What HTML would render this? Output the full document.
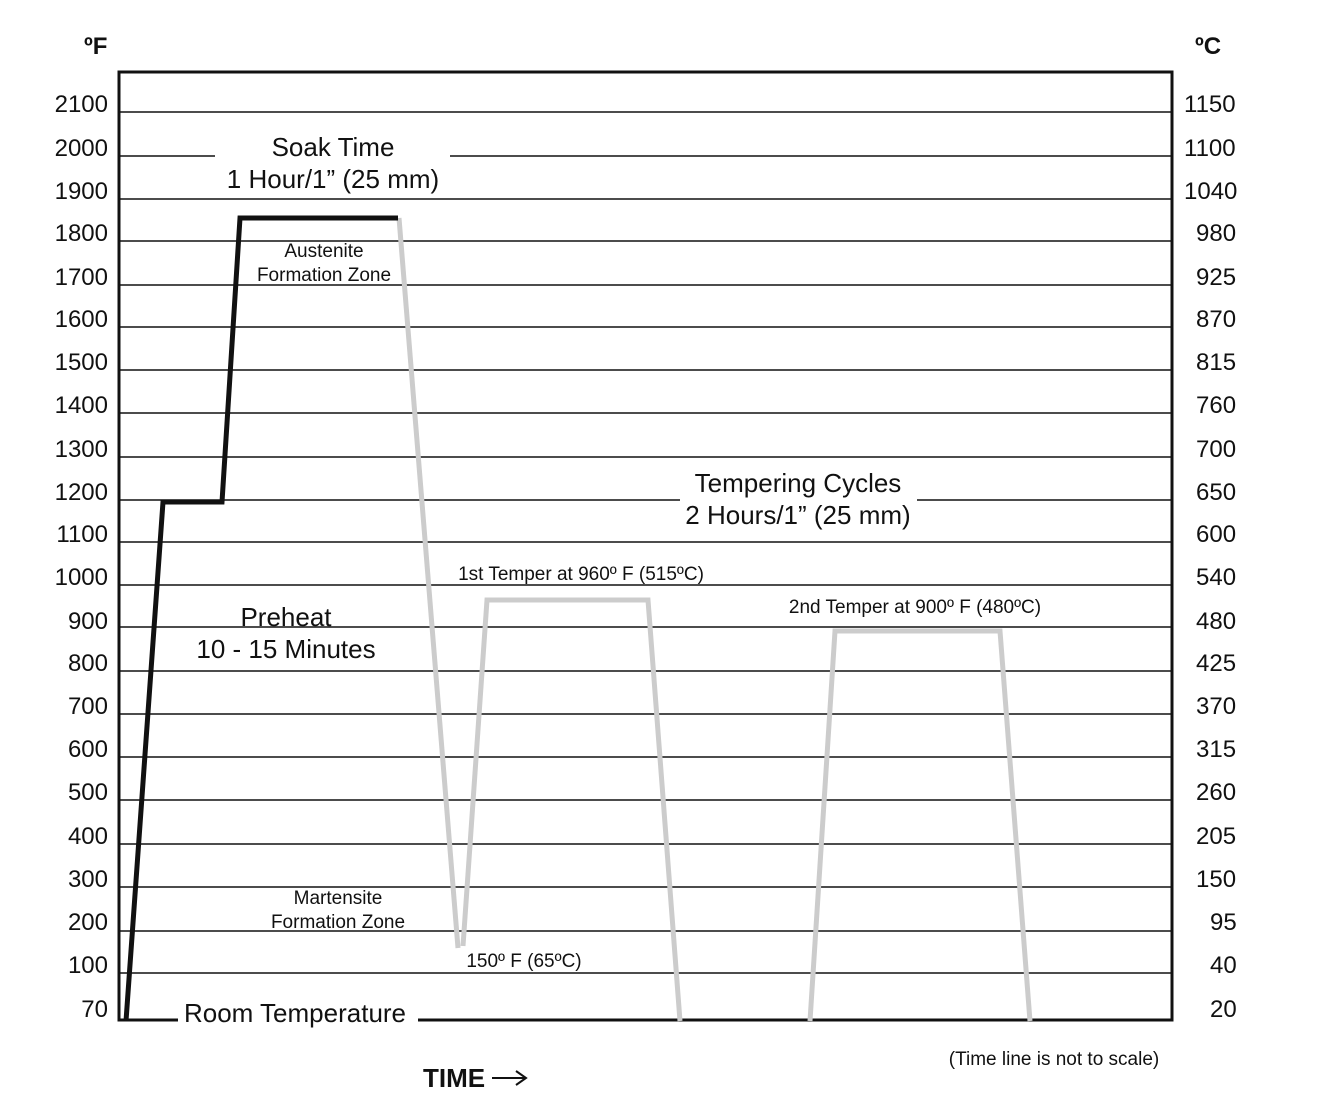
<!DOCTYPE html>
<html><head><meta charset="utf-8"><style>
html,body{margin:0;padding:0;background:#fff;}
svg{display:block;}
text{font-family:"Liberation Sans Narrow","Liberation Sans",sans-serif;fill:#111;}
</style></head><body>
<svg width="1320" height="1116" viewBox="0 0 1320 1116" xmlns="http://www.w3.org/2000/svg">
<g stroke="#111" stroke-width="1.6">
<line x1="119" y1="112" x2="1172" y2="112"/>
<line x1="119" y1="156" x2="215" y2="156"/><line x1="450" y1="156" x2="1172" y2="156"/>
<line x1="119" y1="199" x2="1172" y2="199"/>
<line x1="119" y1="241" x2="1172" y2="241"/>
<line x1="119" y1="285" x2="1172" y2="285"/>
<line x1="119" y1="327" x2="1172" y2="327"/>
<line x1="119" y1="370" x2="1172" y2="370"/>
<line x1="119" y1="413" x2="1172" y2="413"/>
<line x1="119" y1="457" x2="1172" y2="457"/>
<line x1="119" y1="500" x2="680" y2="500"/><line x1="917" y1="500" x2="1172" y2="500"/>
<line x1="119" y1="542" x2="1172" y2="542"/>
<line x1="119" y1="585" x2="1172" y2="585"/>
<line x1="119" y1="627" x2="1172" y2="627"/>
<line x1="119" y1="671" x2="1172" y2="671"/>
<line x1="119" y1="714" x2="1172" y2="714"/>
<line x1="119" y1="757" x2="1172" y2="757"/>
<line x1="119" y1="800" x2="1172" y2="800"/>
<line x1="119" y1="844" x2="1172" y2="844"/>
<line x1="119" y1="887" x2="1172" y2="887"/>
<line x1="119" y1="931" x2="1172" y2="931"/>
<line x1="119" y1="973" x2="1172" y2="973"/>
</g>
<g stroke="#111" stroke-width="3" fill="none">
<polyline points="178,1020 119,1020 119,72 1172,72 1172,1020 418,1020"/>
</g>
<g stroke="#ccc" stroke-width="5" fill="none" stroke-linejoin="miter">
<polyline points="399,218 458,948"/>
<polyline points="463,946 487,600 648,600 680,1021"/>
<polyline points="810,1021 835,631 1000,631 1030,1021"/>
</g>
<polyline points="126,1021 163,502 222,502 240,218 398,218" stroke="#111" stroke-width="5" fill="none"/>
<g font-size="24" text-anchor="end">
<text x="108" y="112">2100</text><text x="108" y="156">2000</text><text x="108" y="199">1900</text>
<text x="108" y="241">1800</text><text x="108" y="285">1700</text><text x="108" y="327">1600</text>
<text x="108" y="370">1500</text><text x="108" y="413">1400</text><text x="108" y="457">1300</text>
<text x="108" y="500">1200</text><text x="108" y="542">1100</text><text x="108" y="585">1000</text>
<text x="108" y="629">900</text><text x="108" y="671">800</text><text x="108" y="714">700</text>
<text x="108" y="757">600</text><text x="108" y="800">500</text><text x="108" y="844">400</text>
<text x="108" y="887">300</text><text x="108" y="930">200</text><text x="108" y="973">100</text>
<text x="108" y="1017">70</text>
</g>
<g font-size="24" text-anchor="start">
<text x="1184" y="112">1150</text><text x="1184" y="156">1100</text><text x="1184" y="199">1040</text>
<text x="1196" y="241">980</text><text x="1196" y="285">925</text><text x="1196" y="327">870</text>
<text x="1196" y="370">815</text><text x="1196" y="413">760</text><text x="1196" y="457">700</text>
<text x="1196" y="500">650</text><text x="1196" y="542">600</text><text x="1196" y="585">540</text>
<text x="1196" y="629">480</text><text x="1196" y="671">425</text><text x="1196" y="714">370</text>
<text x="1196" y="757">315</text><text x="1196" y="800">260</text><text x="1196" y="844">205</text>
<text x="1196" y="887">150</text><text x="1210" y="930">95</text><text x="1210" y="973">40</text>
<text x="1210" y="1017">20</text>
</g>
<text x="84" y="54" font-size="24" font-weight="bold">ºF</text>
<text x="1195" y="54" font-size="24" font-weight="bold">ºC</text>
<g font-size="26" text-anchor="middle">
<text x="333" y="156">Soak Time</text>
<text x="333" y="188">1 Hour/1” (25 mm)</text>
<text x="798" y="492">Tempering Cycles</text>
<text x="798" y="524">2 Hours/1” (25 mm)</text>
<text x="286" y="626">Preheat</text>
<text x="286" y="658">10 - 15 Minutes</text>
<text x="295" y="1022">Room Temperature</text>
</g>
<g font-size="19" text-anchor="middle">
<text x="324" y="257">Austenite</text>
<text x="324" y="281">Formation Zone</text>
<text x="338" y="904">Martensite</text>
<text x="338" y="928">Formation Zone</text>
<text x="581" y="580">1st Temper at 960º F (515ºC)</text>
<text x="915" y="613">2nd Temper at 900º F (480ºC)</text>
<text x="524" y="967">150º F (65ºC)</text>
<text x="1054" y="1065">(Time line is not to scale)</text>
</g>
<text x="423" y="1087" font-size="26" font-weight="bold">TIME</text>
<g stroke="#111" stroke-width="2" fill="none">
<line x1="492" y1="1078" x2="526" y2="1078"/>
<polyline points="516,1071 526,1078 516,1085"/>
</g>
</svg>
</body></html>
